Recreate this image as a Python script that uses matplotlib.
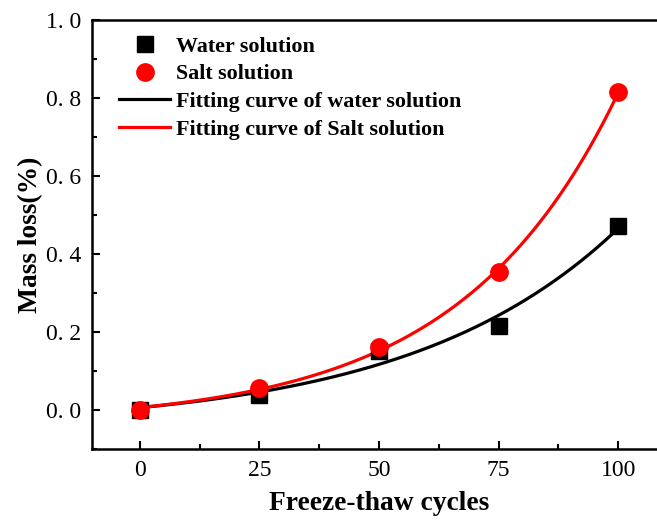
import numpy as np
import matplotlib
matplotlib.use("Agg")
import matplotlib.pyplot as plt
from matplotlib.ticker import MultipleLocator, FuncFormatter

cycles = [0, 25, 50, 75, 100]
water_loss = [0.000, 0.038, 0.152, 0.215, 0.472]
salt_loss = [0.000, 0.056, 0.162, 0.354, 0.815]

labels = ["Water solution", "Salt solution",
          "Fitting curve of water solution", "Fitting curve of Salt solution"]


def exp_growth_fit(x, y):
    """Least-squares fit of y = A*exp(x/t) + y0 (grid over t, linear in A, y0)."""
    x = np.asarray(x, float)
    y = np.asarray(y, float)
    best = None
    for t in np.linspace(10, 400, 4000):
        M = np.column_stack([np.exp(x / t), np.ones_like(x)])
        coef, *_ = np.linalg.lstsq(M, y, rcond=None)
        err = np.sum((M @ coef - y) ** 2)
        if best is None or err < best[0]:
            best = (err, t, coef)
    _, t, (A, y0) = best
    return lambda xx: A * np.exp(np.asarray(xx) / t) + y0


plt.rcParams["font.family"] = ["Liberation Serif", "DejaVu Serif"]

fig = plt.figure(figsize=(6.57, 5.23), dpi=100)
ax = fig.add_axes([0.140, 0.1415, 0.8737, 0.8203])

xs = np.linspace(0, 100, 300)
fw = exp_growth_fit(cycles, water_loss)
fs = exp_growth_fit(cycles, salt_loss)

ax.plot(cycles, water_loss, "s", color="black", ms=11.5, label=labels[0], zorder=3)
ax.plot(cycles, salt_loss, "o", color="#ff0000", ms=12.5, label=labels[1], zorder=4)
ax.plot(xs, fw(xs), "-", color="black", lw=2.3, label=labels[2], zorder=2)
ax.plot(xs, fs(xs), "-", color="#ff0000", lw=2.3, label=labels[3], zorder=2)

ax.set_xlim(-10, 110)
ax.set_ylim(-0.1, 1.0)
ax.xaxis.set_major_locator(MultipleLocator(25))
ax.xaxis.set_minor_locator(MultipleLocator(12.5))
ax.yaxis.set_major_locator(MultipleLocator(0.2))
ax.yaxis.set_minor_locator(MultipleLocator(0.1))
ax.yaxis.set_major_formatter(FuncFormatter(lambda v, p: f"{v:.1f}".replace(".", ". ")))
ax.tick_params(which="both", direction="in", width=1.5, labelsize=17)
ax.tick_params(which="major", length=6, pad=8)
ax.tick_params(which="minor", length=3.5)
ax.tick_params(axis="x", which="both", top=False)
ax.tick_params(axis="y", which="both", right=False)
for s in ax.spines.values():
    s.set_linewidth(1.8)
ax.spines["right"].set_visible(False)

ax.set_xlabel("Freeze-thaw cycles", fontsize=19.8, fontweight="bold", labelpad=7)
ax.set_ylabel("Mass loss(%)", fontsize=19.8, fontweight="bold", labelpad=2)

leg = ax.legend(loc="upper left", bbox_to_anchor=(0.019, 1.0), frameon=False,
                prop={"weight": "bold", "size": 15.8}, handlelength=2.3,
                handletextpad=0.3, labelspacing=0.33, borderaxespad=0.3,
                borderpad=0.45)

fig.savefig("out.png", dpi=100)
